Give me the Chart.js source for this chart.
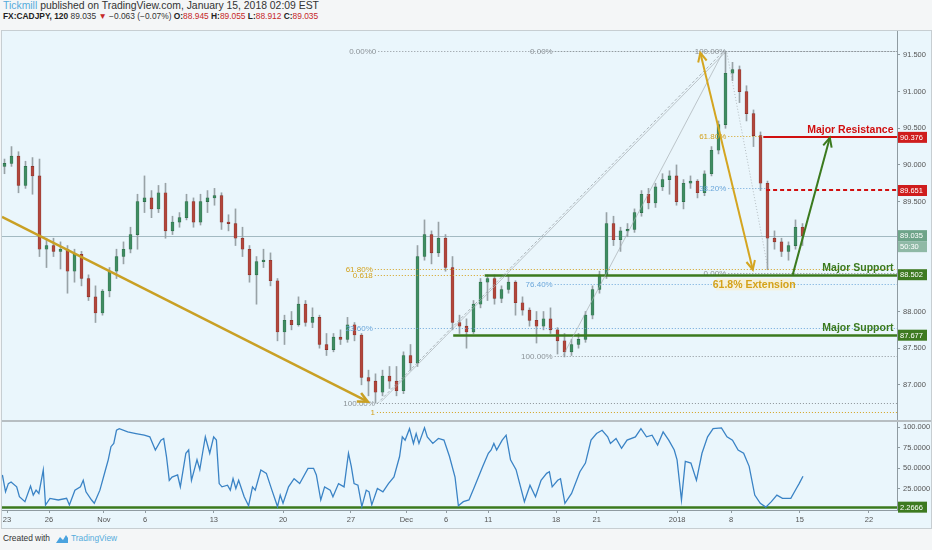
<!DOCTYPE html>
<html>
<head>
<meta charset="utf-8">
<script src="https://cdn.jsdelivr.net/npm/chart.js@4.4.1/dist/chart.umd.min.js"></script>
<style>
  html, body { margin: 0; padding: 0; width: 932px; height: 550px; overflow: hidden; background: #f4f6f7; font-family: "Liberation Sans", Arial, sans-serif; }
  .hdr { position: absolute; left: 3px; white-space: pre; color: #333; }
  #hdr1 { top: 0px; font-size: 10.4px; }
  #hdr2 { top: 11px; font-size: 8.4px; }
  .blue { color: #55acdc; }
  .red { color: #c62828; }
  .b { font-weight: bold; color: #222; }
  #box { position: absolute; left: 1px; top: 30px; width: 929px; height: 497px; background: #eaf6fc; border: 1px solid #c7ced2; }
  #sep { position: absolute; left: 2px; top: 420px; width: 929px; height: 2px; background: #b7bec2; }
  canvas { position: absolute; left: 0; }
  #price { top: 21px; }
  #rsi { top: 413px; }
  #foot { position: absolute; left: 3px; top: 533px; font-size: 8.4px; color: #333; white-space: pre; }
  #foot svg { vertical-align: -3px; margin: 0 2px 0 5px; }
</style>
</head>
<body>
<div id="hdr1" class="hdr"><span class="blue">Tickmill</span> published on TradingView.com, January 15, 2018 02:09 EST</div>
<div id="hdr2" class="hdr"><span class="b">FX:CADJPY, 120</span> 89.035 <span class="red">▼</span> −0.063 (−0.07%) <span class="b">O:</span><span class="red">88.945</span> <span class="b">H:</span><span class="red">89.055</span> <span class="b">L:</span><span class="red">88.912</span> <span class="b">C:</span><span class="red">89.035</span></div>
<div id="box"></div>
<canvas id="price" width="932" height="410"></canvas>
<canvas id="rsi" width="932" height="118"></canvas>
<div id="sep"></div>
<div id="foot">Created with<svg width="14" height="10" viewBox="0 0 14 10"><path d="M1 9 L5 3 L8 6 L11 1 L13 4 L13 9 Z" fill="#4aa3df"/></svg><span class="blue">TradingView</span></div>

<script>
// =========================
//  DATA (2h candles grouped)
// =========================
const tickPos  = [0.36, 6.36, 14.2, 20.1, 29.9, 39.8, 49.5, 57.4, 63.1, 69.1, 78.8, 84.6, 96.1, 103.8, 113.6, 123.5];
const tickText = ["23", "26", "Nov", "6", "13", "20", "27", "Dec", "6", "11", "18", "21", "2018", "8", "15", "22"];

const opens = [
  89.98, 90.02, 90.12, 89.72, 89.98, 89.85, 88.85, 88.90, 88.82, 88.85,
  88.55, 88.78, 88.45, 88.20, 87.98, 88.28, 88.55, 88.75, 88.85, 89.05,
  89.50, 89.55, 89.40, 89.62, 89.10, 89.22, 89.28, 89.50, 89.22, 89.50,
  89.55, 89.58, 89.22, 89.20, 89.00, 88.85, 88.50, 88.68, 88.70, 88.42,
  87.72, 87.88, 87.82, 88.10, 87.85, 87.92, 87.55, 87.48, 87.65, 87.62,
  87.82, 87.68, 87.10, 87.05, 86.90, 87.12, 87.05, 86.92, 87.40, 87.30,
  88.75, 89.05, 88.80, 89.00, 88.60, 87.85, 87.80, 87.72, 88.10, 88.40,
  88.45, 88.18, 88.30, 88.40, 88.12, 88.02, 87.88, 87.80, 87.90, 87.75,
  87.60, 87.45, 87.55, 87.62, 87.95, 88.30, 88.50, 89.20, 88.98, 89.10,
  89.12, 89.35, 89.60, 89.48, 89.70, 89.80, 89.85, 89.50, 89.75, 89.78,
  89.62, 89.88, 90.20, 90.55, 91.25, 91.30, 91.00, 90.70, 90.40, 89.75,
  89.00, 88.95, 88.82, 88.90, 89.15
];
const highs = [
  90.08, 90.25, 90.18, 90.05, 90.10, 90.08, 89.00, 89.00, 88.95, 88.90,
  88.85, 88.82, 88.50, 88.35, 88.30, 88.60, 88.85, 88.95, 89.15, 89.60,
  89.85, 89.65, 89.72, 89.75, 89.30, 89.35, 89.60, 89.55, 89.60, 89.65,
  89.68, 89.62, 89.32, 89.40, 89.15, 88.90, 88.75, 88.85, 88.80, 88.45,
  87.95, 88.00, 88.20, 88.15, 88.05, 87.95, 87.70, 87.70, 87.75, 87.92,
  87.85, 87.70, 87.20, 87.15, 87.20, 87.25, 87.25, 87.45, 87.55, 88.90,
  89.25, 89.10, 89.22, 89.05, 88.75, 87.95, 87.90, 88.15, 88.45, 88.50,
  88.50, 88.35, 88.50, 88.42, 88.20, 88.05, 88.00, 88.00, 88.05, 87.78,
  87.70, 87.62, 87.70, 88.00, 88.35, 88.55, 89.35, 89.30, 89.15, 89.20,
  89.40, 89.65, 89.68, 89.75, 89.88, 89.92, 90.00, 89.80, 89.85, 89.80,
  89.92, 90.25, 90.60, 91.55, 91.40, 91.35, 91.08, 90.75, 90.45, 89.78,
  89.10, 89.00, 88.95, 89.25, 89.20
];
const lows = [
  89.88, 89.98, 89.62, 89.68, 89.60, 88.75, 88.60, 88.75, 88.58, 88.25,
  88.40, 88.35, 88.15, 87.85, 87.95, 88.20, 88.45, 88.65, 88.80, 88.85,
  89.35, 89.28, 89.35, 89.00, 89.05, 89.15, 89.25, 89.15, 89.18, 89.35,
  89.45, 89.12, 89.10, 88.90, 88.75, 88.40, 88.10, 88.60, 88.35, 87.60,
  87.55, 87.75, 87.80, 87.80, 87.78, 87.50, 87.40, 87.45, 87.55, 87.58,
  87.60, 87.00, 86.85, 86.75, 86.85, 86.95, 86.85, 86.88, 87.20, 87.25,
  88.70, 88.65, 88.75, 88.55, 87.75, 87.70, 87.50, 87.70, 88.05, 88.15,
  88.10, 88.12, 88.25, 87.95, 87.95, 87.80, 87.57, 87.75, 87.70, 87.42,
  87.38, 87.40, 87.50, 87.58, 87.90, 88.25, 88.45, 88.90, 88.82, 89.02,
  89.08, 89.30, 89.40, 89.42, 89.65, 89.60, 89.45, 89.40, 89.68, 89.55,
  89.58, 89.85, 90.15, 90.50, 91.15, 90.85, 90.60, 90.25, 89.65, 88.57,
  88.85, 88.75, 88.70, 88.85, 88.90
];
const closes = [
  90.02, 90.12, 89.72, 89.98, 89.85, 88.85, 88.90, 88.82, 88.85, 88.55,
  88.78, 88.45, 88.20, 87.98, 88.28, 88.55, 88.75, 88.85, 89.05, 89.50,
  89.55, 89.40, 89.62, 89.10, 89.22, 89.28, 89.50, 89.22, 89.50, 89.55,
  89.58, 89.22, 89.20, 89.00, 88.85, 88.50, 88.68, 88.70, 88.42, 87.72,
  87.88, 87.82, 88.10, 87.85, 87.92, 87.55, 87.48, 87.65, 87.62, 87.82,
  87.68, 87.10, 87.05, 86.90, 87.12, 87.05, 86.92, 87.40, 87.30, 88.75,
  89.05, 88.80, 89.00, 88.60, 87.85, 87.80, 87.72, 88.10, 88.40, 88.45,
  88.18, 88.30, 88.40, 88.12, 88.02, 87.88, 87.80, 87.90, 87.75, 87.60,
  87.45, 87.55, 87.62, 87.95, 88.30, 88.50, 89.20, 88.98, 89.10, 89.12,
  89.35, 89.60, 89.48, 89.70, 89.80, 89.85, 89.50, 89.75, 89.78, 89.62,
  89.88, 90.20, 90.55, 91.25, 91.30, 91.00, 90.70, 90.40, 89.75, 89.00,
  88.95, 88.82, 88.90, 89.15, 89.035
];

const rsiX = [
  -0.3, 0.15, 0.55, 0.94, 1.74, 2.13, 2.92, 3.72, 4.11, 4.51,
  4.91, 5.54, 5.86, 6.49, 7.68, 8.87, 9.27, 10.06, 10.85, 11.25,
  11.64, 12.44, 12.83, 13.63, 14.42, 14.82, 15.21, 15.61, 16.0, 16.4,
  17.6, 18.78, 19.97, 20.76, 21.55, 22.35, 22.74, 23.14, 23.54, 23.93,
  24.73, 25.12, 25.52, 25.91, 26.31, 26.71, 27.5, 27.9, 28.29, 28.69,
  29.32, 29.88, 30.27, 30.67, 31.07, 31.86, 32.26, 32.65, 33.05, 33.45,
  34.24, 34.87, 35.43, 35.82, 36.62, 37.41, 38.2, 39.0, 39.39, 39.79,
  40.58, 41.37, 42.17, 43.36, 44.15, 44.55, 45.18, 45.73, 46.53, 46.92,
  47.72, 48.51, 49.14, 49.54, 49.94, 50.49, 51.05, 51.68, 52.08, 52.47,
  53.27, 54.06, 54.85, 55.64, 56.44, 56.83, 57.23, 57.86, 58.42, 58.81,
  59.21, 60.0, 60.4, 61.19, 61.99, 62.78, 63.57, 64.36, 64.84, 65.55,
  66.35, 67.14, 68.33, 69.12, 69.52, 69.91, 70.31, 71.1, 71.66, 72.29,
  73.08, 74.27, 75.07, 75.86, 76.65, 77.45, 77.84, 78.24, 79.03, 79.43,
  80.06, 81.01, 82.2, 82.99, 83.79, 84.58, 85.37, 86.17, 86.56, 87.36,
  88.15, 88.94, 90.13, 90.92, 91.71, 92.51, 93.3, 94.09, 94.89, 95.68,
  96.08, 96.71, 97.26, 98.06, 98.85, 99.64, 100.44, 101.23, 102.42, 103.21,
  104.0, 104.8, 105.59, 106.38, 107.18, 107.97, 108.76, 109.55, 110.34, 111.14,
  112.33, 113.12, 113.52, 114.07
];
const rsiY = [
  41.5, 21, 31, 33, 27, 15, 9, 28, 17, 23,
  19, 47.6, 4.9, 13, 11, 13, 4.9, 23, 27, 35,
  21, 11, 7, 23, 47.6, 60, 76, 80, 96, 98,
  94, 92, 90, 88, 72, 84, 86, 64, 35, 39,
  41.5, 27, 47.6, 68, 72, 35, 60, 48, 68, 88,
  68, 88, 84, 31, 27, 29, 23, 37, 25, 35,
  15, 4, 27, 23, 47.6, 43.5, 23, 3, 17, 7,
  27, 37, 31, 49.6, 49.6, 41.5, 11, 27, 23, 15,
  31, 27, 68, 52, 31, 29, 3, 23, 21, 5,
  25, 21, 31, 39, 64, 88, 84, 98, 80, 92,
  80, 99, 88, 80, 86, 84, 64, 39, 4, 9,
  11, 27, 52, 68, 72, 80, 72, 84, 90, 60,
  48, 9, 29, 15, 35, 43.5, 45.5, 27, 35, 37,
  7, 19, 45.5, 56, 84, 92, 96, 88, 80, 86,
  74, 84, 88, 98, 88, 90, 78, 94, 84, 72,
  60, 11, 58, 56, 35, 68, 88, 98, 99, 88,
  84, 72, 68, 52, 17, 7, 2.3, 9, 17, 13,
  13, 25, 31, 40
];

// key levels
const lastPrice = 89.035;
const countdown = "50:30";
const resistance = 90.376;
const resistance2 = 89.651;
const support1 = 88.502;
const support2 = 87.677;
const rsiFloor = 2.2666;

// fibonacci levels: price, label, start bar, end bar
const fibPrice = [91.55, 91.55, 91.55, 88.58, 88.50, 87.78, 86.75, 86.63, 88.376, 87.39, 90.40, 89.69, 88.52];
const fibLabel = ["0.00%0", "0.00%", "100.00%", "61.80%", "0.618", "23.60%", "100.00%", "1", "76.40%", "100.00%", "61.80%", "38.20%", "0.00%"];
const fibFrom  = [53.4, 78.6, 103.4, 52.9, 52.9, 52.9, 53.2, 53.2, 78.6, 78.6, 103.4, 103.4, 103.4];
const fibTo    = [127.5, 127.5, 127.5, 127.5, 127.5, 127.5, 127.5, 127.5, 127.5, 127.5, 108.2, 109.0, 127.5];

// drawn segments: start/end bar and price
const segX1 = [-0.36, 99.4, 112.6, 53.2, 53.8, 79.8, 103.2];
const segY1 = [89.29, 91.53, 88.50, 86.74, 86.77, 87.40, 91.53];
const segX2 = [51.9, 106.9, 117.9, 102.5, 103.1, 102.6, 109.1];
const segY2 = [86.77, 88.57, 90.37, 91.53, 91.55, 91.53, 88.57];

const xMin = -0.357, xMax = 127.5;

// =========================
//  STYLE
// =========================
const GOLD = "#d3a11c", BLUE = "#6aa6da", GRAY = "#8b9297", GREEN = "#3b7a1e", RED = "#d10f0f";
const FONT = '"Liberation Sans", Arial, sans-serif';

function fibColor(label) {
  if (/61\.8|0\.618|^1$/.test(label)) return GOLD;
  if (/23\.6|38\.2|76\.4/.test(label)) return BLUE;
  return GRAY;
}

function arrowHead(ctx, x1, y1, x2, y2, len) {
  const a = Math.atan2(y2 - y1, x2 - x1);
  ctx.beginPath();
  ctx.moveTo(x2 - len * Math.cos(a - 0.45), y2 - len * Math.sin(a - 0.45));
  ctx.lineTo(x2, y2);
  ctx.lineTo(x2 - len * Math.cos(a + 0.45), y2 - len * Math.sin(a + 0.45));
  ctx.stroke();
}

function hline(ctx, x, y, from, to, price, color, width, dash) {
  const py = Math.round(y.getPixelForValue(price)) + (width % 2 ? 0.5 : 0);
  ctx.strokeStyle = color;
  ctx.lineWidth = width;
  ctx.setLineDash(dash || []);
  ctx.beginPath();
  ctx.moveTo(x.getPixelForValue(from), py);
  ctx.lineTo(x.getPixelForValue(to), py);
  ctx.stroke();
  ctx.setLineDash([]);
  return py;
}

function tag(ctx, left, py, text, bg) {
  ctx.fillStyle = bg;
  ctx.fillRect(left + 1, py - 5.5, 29, 11);
  ctx.fillStyle = "#fff";
  ctx.font = "7.5px " + FONT;
  ctx.textAlign = "left";
  ctx.textBaseline = "middle";
  ctx.fillText(text, left + 3, py + 0.5);
}

// =========================
//  PRICE PANEL
// =========================
const bars = closes.map((c, i) => i);
const up = bars.map(i => closes[i] >= opens[i]);

const priceOverlay = {
  id: "priceOverlay",
  beforeDatasetsDraw(chart) {
    const { ctx, scales: { x, y } } = chart;
    ctx.save();
    hline(ctx, x, y, xMin, xMax, lastPrice, "#a3bac2", 1);
    ctx.restore();
  },
  afterDatasetsDraw(chart) {
    const { ctx, chartArea: a, scales: { x, y } } = chart;
    ctx.save();
    ctx.beginPath();
    ctx.rect(a.left, a.top, a.right - a.left, a.bottom - a.top);
    ctx.clip();

    // fib levels
    ctx.font = "8px " + FONT;
    ctx.textAlign = "right";
    ctx.textBaseline = "middle";
    fibPrice.forEach((p, i) => {
      const col = fibColor(fibLabel[i]);
      const py = hline(ctx, x, y, fibFrom[i], fibTo[i], p, col, 1, [1, 2]);
      ctx.fillStyle = col;
      ctx.fillText(fibLabel[i], x.getPixelForValue(fibFrom[i]) - 2, py);
    });

    // support / resistance
    hline(ctx, x, y, 68.6, xMax, support1, GREEN, 2.5);
    hline(ctx, x, y, 64.1, xMax, support2, GREEN, 2.5);
    hline(ctx, x, y, 108.4, xMax, resistance, RED, 2);
    hline(ctx, x, y, 108.8, xMax, resistance2, RED, 2, [4, 3]);

    // segments
    const P = i => [x.getPixelForValue(segX1[i]), y.getPixelForValue(segY1[i]),
                    x.getPixelForValue(segX2[i]), y.getPixelForValue(segY2[i])];
    const seg = (i, color, width, dash) => {
      const [x1, y1, x2, y2] = P(i);
      ctx.strokeStyle = color;
      ctx.lineWidth = width;
      ctx.setLineDash(dash || []);
      ctx.beginPath(); ctx.moveTo(x1, y1); ctx.lineTo(x2, y2); ctx.stroke();
      ctx.setLineDash([]);
      return [x1, y1, x2, y2];
    };
    seg(3, "#9aa3a8", 0.8, [3, 2]);
    seg(4, "#a7afb3", 0.7);
    seg(5, "#a7afb3", 0.7);
    seg(6, "#a7afb3", 0.8, [1, 2]);

    let s = seg(0, "#c9a024", 2.5);
    arrowHead(ctx, s[0], s[1], s[2], s[3], 11);
    s = seg(1, "#d4a520", 2);
    arrowHead(ctx, s[0], s[1], s[2], s[3], 10);
    arrowHead(ctx, s[2], s[3], s[0], s[1], 10);
    s = seg(2, GREEN, 2);
    arrowHead(ctx, s[0], s[1], s[2], s[3], 10);

    // texts
    ctx.font = "bold 10.5px " + FONT;
    ctx.textAlign = "right";
    ctx.textBaseline = "bottom";
    const tx = x.getPixelForValue(127.0);
    ctx.fillStyle = RED;
    ctx.fillText("Major Resistance", tx, y.getPixelForValue(resistance) - 2);
    ctx.fillStyle = GREEN;
    ctx.fillText("Major Support", tx, y.getPixelForValue(support1) - 1.5);
    ctx.fillText("Major Support", tx, y.getPixelForValue(support2) - 1.5);

    const ex = x.getPixelForValue(107.1), ey = y.getPixelForValue(88.37);
    ctx.fillStyle = "rgba(246,240,214,0.85)";
    ctx.fillRect(ex - 38, ey - 6, 76, 12);
    ctx.fillStyle = "#d4a21a";
    ctx.textAlign = "center";
    ctx.textBaseline = "middle";
    ctx.fillText("61.8% Extension", ex, ey + 0.5);
    ctx.restore();
  },
  afterDraw(chart) {
    const { ctx, scales: { y } } = chart;
    ctx.save();
    const L = y.left;
    tag(ctx, L, y.getPixelForValue(resistance), resistance.toFixed(3), "#cf1d1d");
    tag(ctx, L, y.getPixelForValue(resistance2), resistance2.toFixed(3), "#cf1d1d");
    const lp = y.getPixelForValue(lastPrice);
    tag(ctx, L, lp, lastPrice.toFixed(3), "#6ea489");
    tag(ctx, L, lp + 11, countdown, "#8fb9a6");
    tag(ctx, L, y.getPixelForValue(support1), support1.toFixed(3), "#3d7a20");
    tag(ctx, L, y.getPixelForValue(support2), support2.toFixed(3), "#3d7a20");
    ctx.restore();
  }
};

new Chart(document.getElementById("price"), {
  type: "bar",
  data: {
    datasets: [
      {
        data: bars.map(i => ({ x: i, y: [lows[i], highs[i]] })),
        backgroundColor: "#98a2a6",
        barThickness: 1,
        grouped: false,
        order: 2
      },
      {
        data: bars.map(i => ({ x: i, y: [opens[i], closes[i]] })),
        backgroundColor: up.map(u => u ? "#3f8d62" : "#b3463b"),
        borderColor: up.map(u => u ? "#2d6b48" : "#82302a"),
        borderWidth: 0.6,
        borderSkipped: false,
        barThickness: 3,
        minBarLength: 1.5,
        grouped: false,
        order: 1
      }
    ]
  },
  options: {
    responsive: false,
    animation: false,
    layout: { padding: { left: 2, right: 2, top: 10, bottom: 11 } },
    plugins: { legend: { display: false }, tooltip: { enabled: false } },
    scales: {
      x: { type: "linear", min: xMin, max: xMax, offset: false, display: false, grid: { offset: false } },
      y: {
        position: "right",
        min: 86.52,
        max: 91.827,
        afterFit(s) { s.width = 33; },
        afterBuildTicks(s) { s.ticks = [87, 87.5, 88, 88.5, 89, 89.5, 90, 90.5, 91, 91.5].map(v => ({ value: v })); },
        ticks: { font: { size: 7.5, family: FONT }, color: "#555", padding: 3, callback: v => v.toFixed(3) },
        grid: { drawOnChartArea: false, tickLength: 3, color: "#8f9ba1" },
        border: { color: "#8f9ba1" }
      }
    }
  },
  plugins: [priceOverlay]
});

// =========================
//  RSI PANEL
// =========================
const rsiOverlay = {
  id: "rsiOverlay",
  beforeDatasetsDraw(chart) {
    const { ctx, scales: { x, y } } = chart;
    ctx.save();
    hline(ctx, x, y, xMin, xMax, rsiFloor, GREEN, 2.5);
    ctx.restore();
  },
  afterDraw(chart) {
    const { ctx, scales: { y } } = chart;
    ctx.save();
    tag(ctx, y.left, y.getPixelForValue(rsiFloor), rsiFloor.toFixed(4), "#3d7a20");
    ctx.restore();
  }
};

new Chart(document.getElementById("rsi"), {
  type: "line",
  data: {
    datasets: [{
      data: rsiX.map((v, i) => ({ x: v, y: rsiY[i] })),
      borderColor: "#3a83c5",
      borderWidth: 1.3,
      pointRadius: 0,
      tension: 0
    }]
  },
  options: {
    responsive: false,
    animation: false,
    layout: { padding: { left: 2, right: 2, top: 9, bottom: 3 } },
    plugins: { legend: { display: false }, tooltip: { enabled: false } },
    scales: {
      x: {
        type: "linear",
        min: xMin,
        max: xMax,
        afterFit(s) { s.height = 18; },
        afterBuildTicks(s) { s.ticks = tickPos.map(v => ({ value: v })); },
        ticks: {
          autoSkip: false, maxRotation: 0, padding: 2,
          font: { size: 7.5, family: FONT }, color: "#555",
          callback: (v, i) => tickText[i]
        },
        grid: { drawOnChartArea: false, tickLength: 3, color: "#8f9ba1" },
        border: { color: "#8f9ba1" }
      },
      y: {
        position: "right",
        min: -1.2,
        max: 106.1,
        afterFit(s) { s.width = 33; },
        afterBuildTicks(s) { s.ticks = [25, 50, 75, 100].map(v => ({ value: v })); },
        ticks: { font: { size: 7.5, family: FONT }, color: "#555", padding: 3, callback: v => v.toFixed(4) },
        grid: { drawOnChartArea: false, tickLength: 3, color: "#8f9ba1" },
        border: { color: "#8f9ba1" }
      }
    }
  },
  plugins: [rsiOverlay]
});
</script>
</body>
</html>
